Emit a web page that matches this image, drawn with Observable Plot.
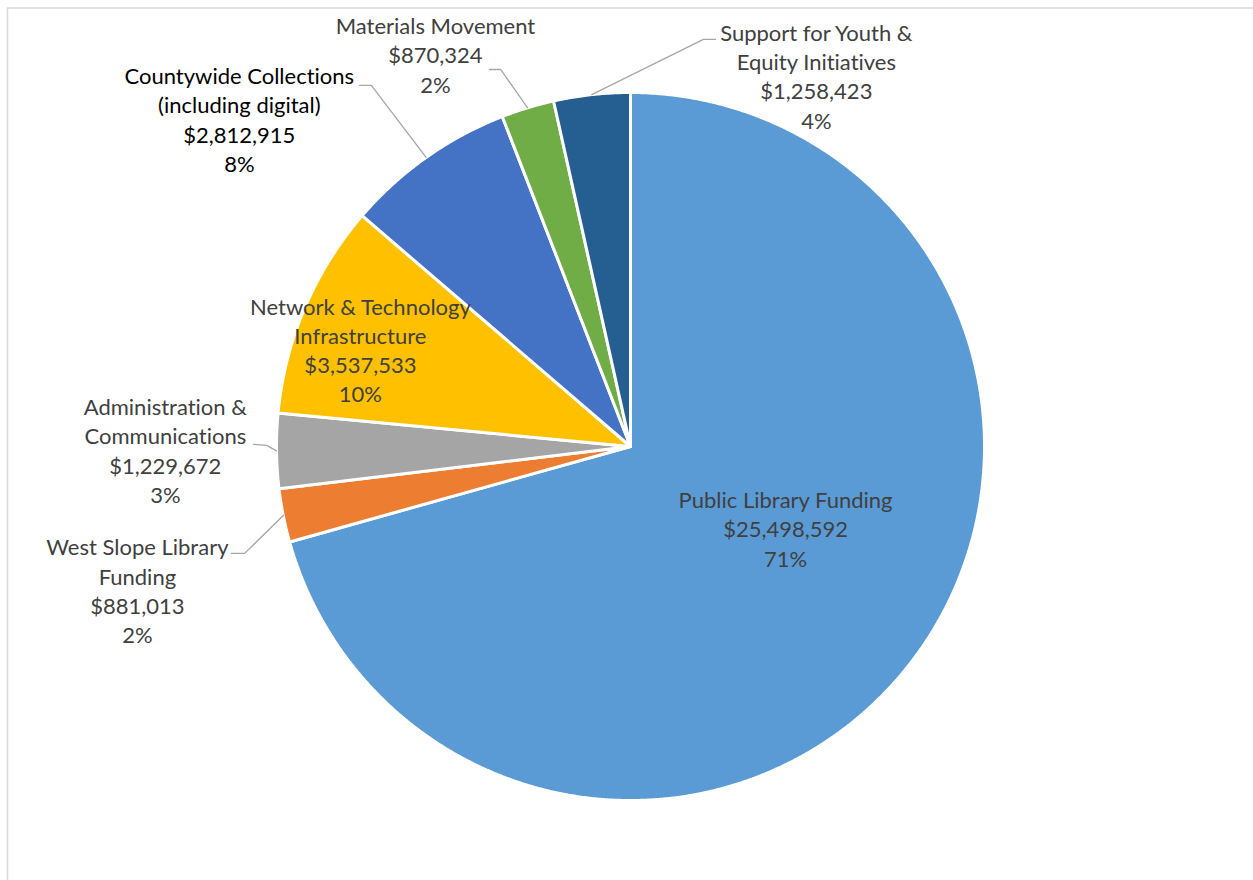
<!DOCTYPE html>
<html><head><meta charset="utf-8">
<script src="https://cdn.jsdelivr.net/npm/d3@7"></script>
<script src="https://cdn.jsdelivr.net/npm/@observablehq/plot@0.6"></script>
<style>html,body{margin:0;padding:0;background:#fff;overflow:hidden} svg text{font-variant-ligatures:none;font-feature-settings:"liga" 0}</style>
</head><body><div id="chart"></div>
<script>
// ---- data ----
const categories = [
  "Public Library Funding",
  "West Slope Library\nFunding",
  "Administration &\nCommunications",
  "Network & Technology\nInfrastructure",
  "Countywide Collections\n(including digital)",
  "Materials Movement",
  "Support for Youth &\nEquity Initiatives"
];
const values = [25498592, 881013, 1229672, 3537533, 2812915, 870324, 1258423];
const valueLabels = ["$25,498,592", "$881,013", "$1,229,672", "$3,537,533", "$2,812,915", "$870,324", "$1,258,423"];
const percentLabels = ["71%", "2%", "3%", "10%", "8%", "2%", "4%"];
const colors = ["#5B9BD5", "#ED7D31", "#A5A5A5", "#FFC000", "#4472C4", "#70AD47", "#255E91"];
const labelColors = ["#404040", "#404040", "#404040", "#404040", "#000000", "#404040", "#404040"];

// ---- layout (in pie-radius units, relative to pie centre) ----
const labelCenters = [[0.438, -0.230], [-1.393, -0.405], [-1.314, -0.009], [-0.763, 0.275], [-1.105, 0.926], [-0.551, 1.109], [0.525, 1.048]];
// leader lines: [text end, elbow] ; null = no leader
const leaders = [null, [[-1.127, -0.302], [-1.090, -0.302]], [[-1.065, 0.006], [-1.028, 0.003]], null,
  [[-0.766, 1.020], [-0.732, 1.020]], [[-0.398, 1.065], [-0.367, 1.065]], [[0.240, 1.150], [0.206, 1.150]]];

const W = 1253, H = 880, cx = 630, cy = 446, R = 354;

const arcs = d3.pie().sort(null).value(d => d)(values);
const slicePts = [];
arcs.forEach((a, i) => {
  slicePts.push({k: i, x: 0, y: 0, c: colors[i]});
  const n = Math.max(8, Math.ceil((a.endAngle - a.startAngle) / 0.005));
  for (let j = 0; j <= n; j++) {
    const t = a.startAngle + (a.endAngle - a.startAngle) * j / n;
    slicePts.push({k: i, x: Math.sin(t), y: Math.cos(t), c: colors[i]});
  }
  slicePts.push({k: i, x: 0, y: 0, c: colors[i]});
});

const leaderPts = [];
leaders.forEach((l, i) => {
  if (!l) return;
  const m = (arcs[i].startAngle + arcs[i].endAngle) / 2;
  leaderPts.push({k: i, x: l[0][0], y: l[0][1]});
  leaderPts.push({k: i, x: l[1][0], y: l[1][1]});
  leaderPts.push({k: i, x: Math.sin(m), y: Math.cos(m)});
});

const labels = categories.map((c, i) => ({
  text: c + "\n" + valueLabels[i] + "\n" + percentLabels[i],
  x: labelCenters[i][0], y: labelCenters[i][1], c: labelColors[i]
}));

const chart = Plot.plot({
  width: W, height: H, margin: 0,
  style: {fontFamily: "Lato, 'Open Sans', sans-serif", background: "#fff"},
  x: {domain: [-cx / R, (W - cx) / R], axis: null},
  y: {domain: [-(H - cy) / R, cy / R], axis: null},
  color: {type: "identity"},
  marks: [
    Plot.frame({stroke: "#d9d9d9", strokeWidth: 1.5, insetLeft: 7, insetTop: 7.5, insetRight: -10, insetBottom: -10}),
    Plot.line(slicePts, {x: "x", y: "y", z: "k", fill: "c", stroke: "#fff", strokeWidth: 3, strokeLinejoin: "miter"}),
    Plot.line(leaderPts, {x: "x", y: "y", z: "k", stroke: "#a6a6a6", strokeWidth: 1.3}),
    Plot.text(labels, {x: "x", y: "y", text: "text", fill: "c", fontSize: 22, lineHeight: 1.33, textAnchor: "middle"})
  ]
});
document.getElementById("chart").appendChild(chart);
</script>
</body></html>
